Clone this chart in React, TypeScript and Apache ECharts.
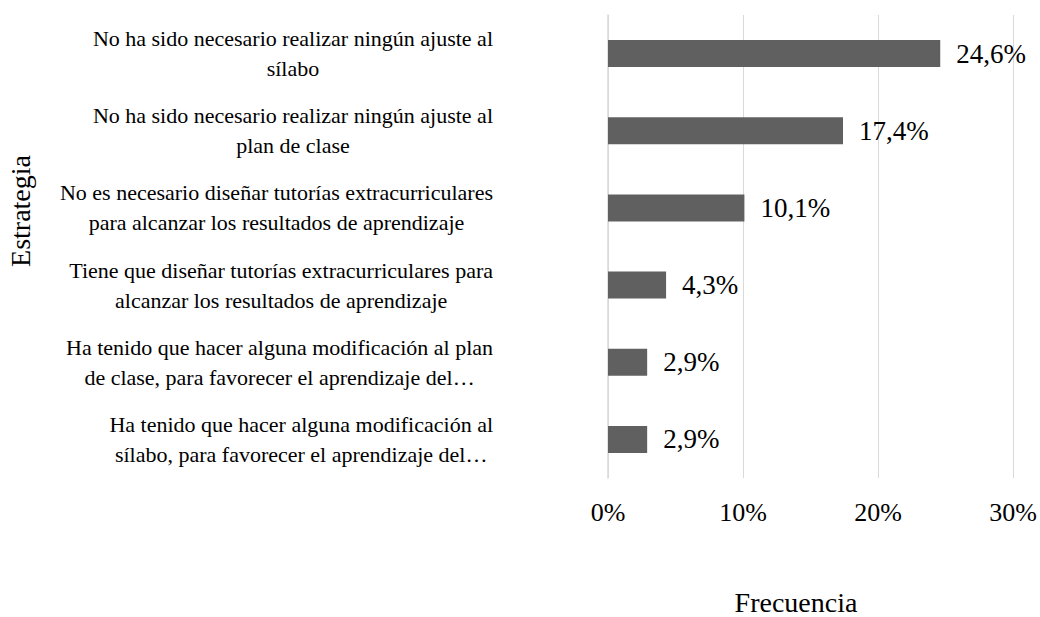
import React, { useEffect, useRef } from "react";
import * as echarts from "echarts";

const categories: string[] = [
  "No ha sido necesario realizar ningún ajuste al\nsílabo",
  "No ha sido necesario realizar ningún ajuste al\nplan de clase",
  "No es necesario diseñar tutorías extracurriculares\npara alcanzar los resultados de aprendizaje",
  "Tiene que diseñar tutorías extracurriculares para\nalcanzar los resultados de aprendizaje",
  "Ha tenido que hacer alguna modificación al plan\nde clase, para favorecer el aprendizaje del…",
  "Ha tenido que hacer alguna modificación al\nsílabo, para favorecer el aprendizaje del…",
];
const values: number[] = [24.6, 17.4, 10.1, 4.3, 2.9, 2.9];
const xTicks = { min: 0, max: 30, interval: 10 };
const xTitle = "Frecuencia";
const yTitle = "Estrategia";

const FONT = "Liberation Serif, Times New Roman, serif";

export default function App() {
  const ref = useRef<HTMLDivElement>(null);
  useEffect(() => {
    if (!ref.current) return;
    const chart = echarts.init(ref.current, undefined, { renderer: "svg" });
    chart.setOption({
      animation: false,
      backgroundColor: "#ffffff",
      textStyle: { fontFamily: FONT },
      grid: { left: 608, right: 24, top: 15, bottom: 139, containLabel: false },
      xAxis: {
        type: "value",
        min: xTicks.min,
        max: xTicks.max,
        interval: xTicks.interval,
        axisLine: { show: false },
        axisTick: { show: false },
        splitLine: { show: true, lineStyle: { color: "#d9d9d9", width: 1 } },
        axisLabel: {
          formatter: "{value}%",
          fontFamily: FONT,
          fontSize: 26,
          color: "#000",
          margin: 21,
        },
      },
      yAxis: {
        type: "category",
        inverse: true,
        data: categories,
        axisLine: { show: true, lineStyle: { color: "#d9d9d9", width: 1.5 } },
        axisTick: { show: false },
        axisLabel: {
          interval: 0,
          margin: 115,
          fontFamily: FONT,
          fontSize: 22,
          formatter: (v: string) =>
            v
              .split("\n")
              .map((l) => `{c|${l}}`)
              .join("\n"),
          rich: {
            c: {
              fontFamily: FONT,
              fontSize: 22,
              lineHeight: 30,
              color: "#000",
              align: "center",
            },
          },
        },
      },
      series: [
        {
          type: "bar",
          data: values,
          barWidth: 27,
          itemStyle: { color: "#606060" },
          label: {
            show: true,
            position: "right",
            distance: 16,
            fontFamily: FONT,
            fontSize: 27,
            color: "#000",
            formatter: (p: any) => `${p.value.toFixed(1).replace(".", ",")}%`,
          },
        },
      ],
      graphic: [
        {
          type: "text",
          x: 796,
          y: 602,
          style: {
            text: xTitle,
            fontFamily: FONT,
            fontSize: 28,
            fill: "#000",
            align: "center",
            verticalAlign: "middle",
          },
        },
        {
          type: "text",
          x: 20,
          y: 211,
          rotation: Math.PI / 2,
          style: {
            text: yTitle,
            fontFamily: FONT,
            fontSize: 28,
            fill: "#000",
            align: "center",
            verticalAlign: "middle",
          },
        },
      ],
    });
    return () => chart.dispose();
  }, []);
  return (
    <div
      ref={ref}
      style={{ position: "fixed", left: 0, top: 0, width: 1040, height: 617, background: "#fff" }}
    />
  );
}
